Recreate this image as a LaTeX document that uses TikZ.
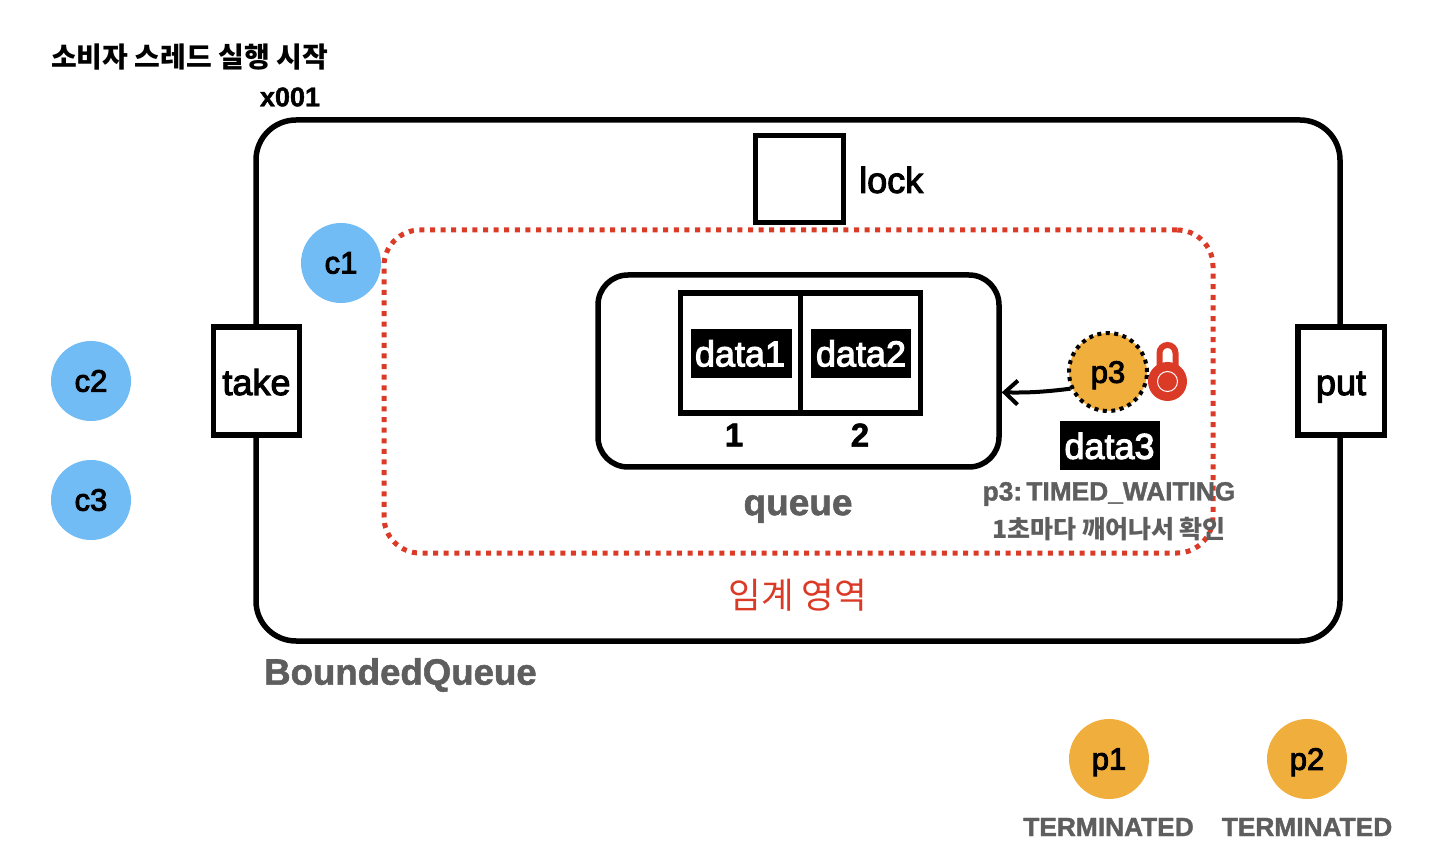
\documentclass[tikz,border=0pt]{standalone}
\usepackage{fontspec}
\setmainfont{Liberation Sans}[BoldFeatures={FakeBold=1.5}]
\newfontfamily\medfont[FakeBold=3]{Liberation Sans}
\newfontfamily\krfont{Noto Sans CJK KR}
\usetikzlibrary{arrows.meta}
\definecolor{blockred}{HTML}{DA3A26}
\definecolor{threadblue}{HTML}{72BCF5}
\definecolor{threadorange}{HTML}{F0AE3C}
\definecolor{labelgray}{HTML}{5E5E5E}
\newcommand{\fsize}[1]{\fontsize{#1}{#1}\selectfont}
\tikzset{
  box/.style={draw, line width=5.5pt, rectangle, fill=white, inner sep=0pt},
  gate/.style={box, minimum height=108pt, text height=28pt, text depth=0pt, font=\medfont\fsize{36}},
  thread/.style={circle, inner sep=0pt, minimum size=80pt, text=black, font=\medfont\fsize{31}},
  consumer/.style={thread, fill=threadblue},
  producer/.style={thread, fill=threadorange, text depth=0pt},
  databox/.style={fill=black, text=white, inner sep=0pt, minimum height=49pt, minimum width=100pt, font=\medfont\fsize{36}},
  plain/.style={inner sep=0pt, font=\medfont\fsize{36}},
  graylabel/.style={inner sep=0pt, text=labelgray, font=\bfseries\fsize{26.3}},
}
\begin{document}
\begin{tikzpicture}[x=1pt, y=-1pt]
      \useasboundingbox (0,0) rectangle (1444,866);

      \node[inner sep=0pt, anchor=west, font=\krfont\bfseries\fsize{28}] (title) at (51,57) {소비자 스레드 실행 시작};
      \node[inner sep=0pt, font=\bfseries\fsize{27}] (addr) at (290,97) {x001};

      \node[draw, line width=5.5pt, rounded corners=40pt, minimum width=1084pt, minimum height=521pt] (bounded) at (798,380.5) {};
      \node[draw=blockred, line width=5pt, dash pattern=on 5pt off 5.6pt, rounded corners=36pt, minimum width=829pt, minimum height=323pt] (critical) at (798.5,391.5) {};

      \node[box, minimum width=88pt, minimum height=87pt] (lock) at (799.5,179) {};
      \node[plain, anchor=west] (locktext) at (859,180) {lock};
      \node[gate, minimum width=86pt] (take) at (256.5,381) {take};
      \node[gate, minimum width=86.5pt] (put) at (1341,381) {put};

      \node[draw, line width=5.5pt, rounded corners=30pt, minimum width=401pt, minimum height=192pt] (queue) at (798.5,371) {};
      \node[box, minimum width=120pt, minimum height=120pt] (cell1) at (740.5,353) {};
      \node[box, minimum width=120pt, minimum height=120pt] (cell2) at (860.5,353) {};
      \node[databox, minimum width=101pt] (data1) at (741.5,353.5) {\kern-3pt data1};
      \node[databox] (data2) at (861,353.5) {data2};
      \node[inner sep=0pt, font=\bfseries\fsize{33}] (idx1) at (734,435) {1};
      \node[inner sep=0pt, font=\bfseries\fsize{33}] (idx2) at (860,435) {2};
      \node[inner sep=0pt, text=labelgray, font=\bfseries\fsize{37}] (queuetext) at (798,509) {queue};

      \node[consumer] (c1) at (341,263) {c1};
      \node[consumer] (c2) at (91,381) {c2};
      \node[consumer] (c3) at (91,500) {c3};

      \node[producer, draw=black, line width=4pt, dash pattern=on 4pt off 4.5pt, minimum size=78pt] (p3) at (1108,372) {p3};
      \node[circle, fill=blockred, minimum size=39pt, inner sep=0pt] (lockbody) at (1167.5,381.5) {};
      \node[circle, draw=white, line width=1pt, minimum size=20pt, inner sep=0pt] (lockring) at (1167.5,381.5) {};
      \draw[blockred, line width=6pt] (1159.5,366) -- (1159.5,353) arc[start angle=180, end angle=360, radius=8] -- (1175.5,366);
      \draw[line width=4pt, -{Straight Barb[length=13pt, width=24pt]}] (p3.204) to[bend left=4] (queue.354);

      \node[databox] (data3) at (1109.5,446) {data3};
      \node[graylabel] (p3state) at (1109,494) {p3:\kern-3pt\ TIMED\_WAITING};
      \node[graylabel, font=\krfont\bfseries\fsize{25}] (p3note) at (1109,529) {1초마다 깨어나서 확인};

      \node[inner sep=0pt, text=blockred, font=\krfont\fsize{35.5}] (criticaltext) at (798,595) {임계 영역};
      \node[inner sep=0pt, anchor=west, text=labelgray, font=\bfseries\fsize{36.6}] (boundedtext) at (264,675) {BoundedQueue};

      \node[producer] (p1) at (1109,759) {p1};
      \node[producer] (p2) at (1307,759) {p2};
      \node[graylabel] (p1state) at (1108.5,827) {TERMINATED};
      \node[graylabel] (p2state) at (1307,827) {TERMINATED};
    \end{tikzpicture}
\end{document}
